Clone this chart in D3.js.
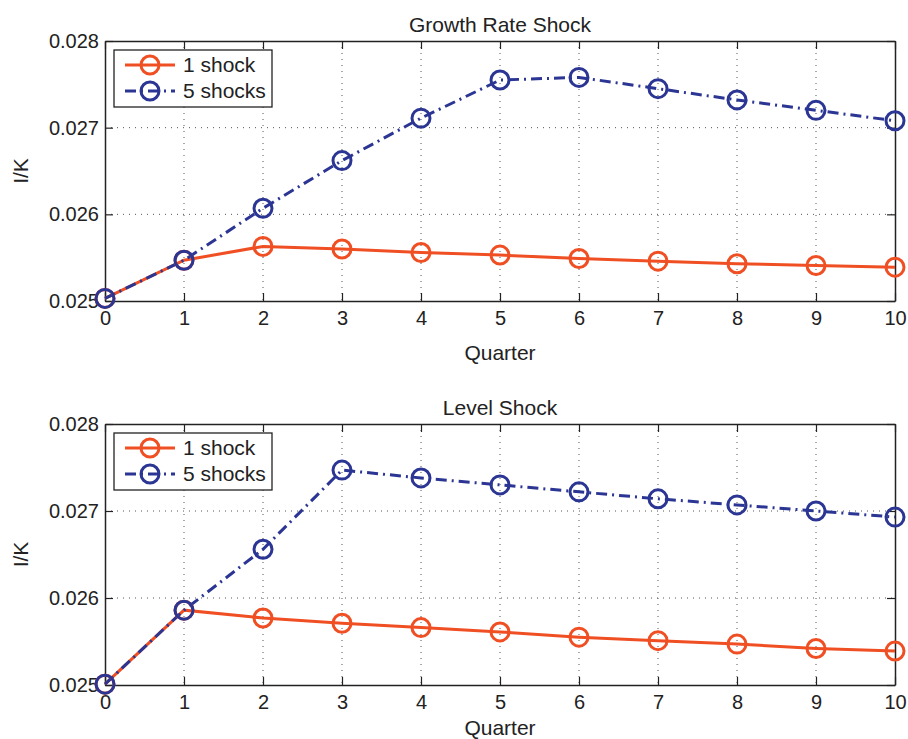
<!DOCTYPE html>
<html>
<head>
<meta charset="utf-8">
<script src="https://cdn.jsdelivr.net/npm/d3@7"></script>
<style>
    body { margin: 0; background: #fff; }
    svg text { font-family: "Liberation Sans", Arial, sans-serif; fill: #222; }
</style>
</head>
<body>
<div id="chart"></div>
<script>
// quarters on the x axis
var quarters = [0, 1, 2, 3, 4, 5, 6, 7, 8, 9, 10];
var yTicks = [0.025, 0.026, 0.027, 0.028];

// Growth rate shock panel
var growthOne = [0.02503, 0.02547, 0.02563, 0.02560, 0.02556, 0.02553, 0.02549, 0.02546, 0.02543, 0.02541, 0.02539];
var growthFive = [0.02503, 0.02547, 0.02607, 0.02662, 0.02711, 0.02755, 0.02758, 0.02745, 0.02732, 0.02720, 0.02708];

// Level shock panel
var levelOne = [0.02501, 0.02586, 0.02577, 0.02571, 0.02566, 0.02561, 0.02555, 0.02551, 0.02547, 0.02542, 0.02539];
var levelFive = [0.02501, 0.02586, 0.02656, 0.02747, 0.02738, 0.02730, 0.02722, 0.02714, 0.02707, 0.02700, 0.02693];

var seriesNames = ["1 shock", "5 shocks"];
var colors = ["#f04f23", "#2b3593"];
var dashes = [null, "11,5,2,5"];

var width = 908, height = 739;

var svg = d3.select("#chart")
    .append("svg")
    .attr("width", width)
    .attr("height", height);

function drawPanel(title, top, bottom, one, five, xLabelGap) {
    var left = 105, right = 895;

    var x = d3.scaleLinear().domain([0, 10]).range([left, right]);
    var y = d3.scaleLinear().domain([0.025, 0.028]).range([bottom, top]);

    var g = svg.append("g");

    // dotted grid
    g.selectAll(".vgrid")
        .data(quarters.slice(1, -1))
        .enter().append("line")
        .attr("x1", function (d) { return x(d); })
        .attr("x2", function (d) { return x(d); })
        .attr("y1", top)
        .attr("y2", bottom)
        .attr("stroke", "#555")
        .attr("stroke-width", 1)
        .attr("stroke-dasharray", "1,5");

    g.selectAll(".hgrid")
        .data(yTicks.slice(1, -1))
        .enter().append("line")
        .attr("x1", left)
        .attr("x2", right)
        .attr("y1", function (d) { return y(d); })
        .attr("y2", function (d) { return y(d); })
        .attr("stroke", "#555")
        .attr("stroke-width", 1)
        .attr("stroke-dasharray", "1,5");

    // axes, ticks inside like matlab
    var xAxis = d3.axisBottom(x).tickValues(quarters).tickSizeInner(-8).tickSizeOuter(0).tickPadding(10)
        .tickFormat(d3.format("d"));
    var xAxisTop = d3.axisTop(x).tickValues(quarters).tickSizeInner(-8).tickSizeOuter(0).tickFormat("");
    var yAxis = d3.axisLeft(y).tickValues(yTicks).tickSizeInner(-8).tickSizeOuter(0).tickPadding(6)
        .tickFormat(d3.format(".3f"));
    var yAxisRight = d3.axisRight(y).tickValues(yTicks).tickSizeInner(-8).tickSizeOuter(0).tickFormat("");

    [g.append("g").attr("transform", "translate(0," + bottom + ")").call(xAxis),
     g.append("g").attr("transform", "translate(0," + top + ")").call(xAxisTop),
     g.append("g").attr("transform", "translate(" + left + ",0)").call(yAxis),
     g.append("g").attr("transform", "translate(" + right + ",0)").call(yAxisRight)
    ].forEach(function (ax) {
        ax.select(".domain").attr("stroke", "#222").attr("stroke-width", 1.5);
        ax.selectAll(".tick line").attr("stroke", "#222").attr("stroke-width", 1.2);
        ax.selectAll("text").style("font-size", "20px").attr("fill", "#222");
    });

    // lines and markers
    var line = d3.line()
        .x(function (d, i) { return x(quarters[i]); })
        .y(function (d) { return y(d); });

    [one, five].forEach(function (vals, k) {
        g.append("path")
            .datum(vals)
            .attr("d", line)
            .attr("fill", "none")
            .attr("stroke", colors[k])
            .attr("stroke-width", 3)
            .attr("stroke-dasharray", dashes[k]);
    });

    // blue drawn last so its markers sit on top at the shared points
    [one, five].forEach(function (vals, k) {
        g.selectAll(".m" + k)
            .data(vals)
            .enter().append("circle")
            .attr("cx", function (d, i) { return x(quarters[i]); })
            .attr("cy", function (d) { return y(d); })
            .attr("r", 9)
            .attr("fill", "none")
            .attr("stroke", colors[k])
            .attr("stroke-width", 3);
    });

    // title and labels
    g.append("text")
        .attr("x", (left + right) / 2)
        .attr("y", top - 9)
        .attr("text-anchor", "middle")
        .style("font-size", "21px")
        .text(title);

    g.append("text")
        .attr("x", (left + right) / 2)
        .attr("y", bottom + xLabelGap)
        .attr("text-anchor", "middle")
        .style("font-size", "21px")
        .text("Quarter");

    g.append("text")
        .attr("transform", "translate(28," + ((top + bottom) / 2) + ") rotate(-90)")
        .attr("text-anchor", "middle")
        .style("font-size", "21px")
        .text("I/K");

    // legend
    var lg = g.append("g").attr("transform", "translate(" + (left + 9) + "," + (top + 9) + ")");
    lg.append("rect")
        .attr("width", 158)
        .attr("height", 57)
        .attr("fill", "#fff")
        .attr("stroke", "#222")
        .attr("stroke-width", 1.3);

    seriesNames.forEach(function (name, k) {
        var cy = 15 + k * 26;
        lg.append("line")
            .attr("x1", 11).attr("x2", 61)
            .attr("y1", cy).attr("y2", cy)
            .attr("stroke", colors[k])
            .attr("stroke-width", 3)
            .attr("stroke-dasharray", dashes[k]);
        lg.append("circle")
            .attr("cx", 36).attr("cy", cy).attr("r", 9)
            .attr("fill", "none")
            .attr("stroke", colors[k])
            .attr("stroke-width", 3);
        lg.append("text")
            .attr("x", 69)
            .attr("y", cy + 7)
            .style("font-size", "21px")
            .text(name);
    });
}

drawPanel("Growth Rate Shock", 41, 301, growthOne, growthFive, 59);
drawPanel("Level Shock", 424, 685, levelOne, levelFive, 50);
</script>
</body>
</html>
